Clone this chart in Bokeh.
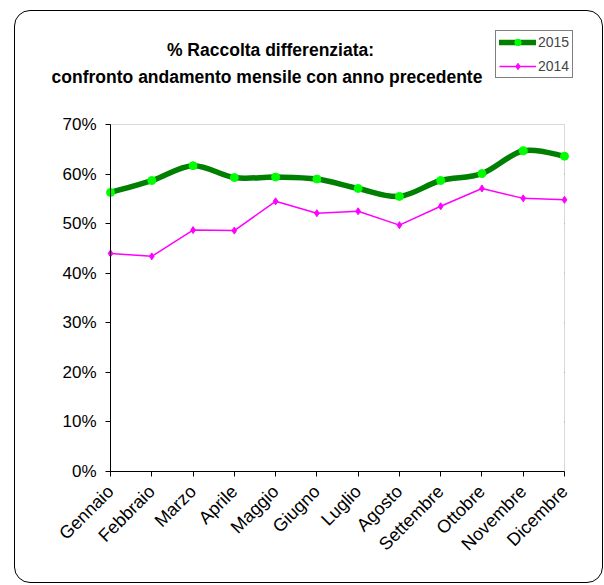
from bokeh.plotting import figure
from bokeh.models import (Range1d, FixedTicker, PrintfTickFormatter, Legend, LegendItem,
                          ColumnDataSource, Label, BoxAnnotation)
from bokeh.embed import file_html
from bokeh.resources import INLINE
import math

# ---- data ----
months = ["Gennaio", "Febbraio", "Marzo", "Aprile", "Maggio", "Giugno",
          "Luglio", "Agosto", "Settembre", "Ottobre", "Novembre", "Dicembre"]
v2015 = [56.3, 58.7, 61.7, 59.3, 59.4, 59.0, 57.1, 55.5, 58.7, 60.1, 64.7, 63.6]
v2014 = [44.0, 43.4, 48.7, 48.6, 54.5, 52.1, 52.5, 49.7, 53.5, 57.1, 55.1, 54.8]
y_ticks = [0, 10, 20, 30, 40, 50, 60, 70]
grid_vals = [10, 20, 30, 40, 50, 60]
title_lines = ["% Raccolta differenziata:",
               "confronto andamento mensile con anno precedente"]

xs = list(range(len(months)))

# smoothed (bezier) segments for 2015, control points derived from the data
def seg(i):
    n = len(xs)
    xm = xs[max(i - 1, 0)]; ym = v2015[max(i - 1, 0)]
    xp2 = xs[min(i + 2, n - 1)]; yp2 = v2015[min(i + 2, n - 1)]
    x0, y0, x1, y1 = xs[i], v2015[i], xs[i + 1], v2015[i + 1]
    return (x0, y0, x1, y1,
            x0 + (x1 - xm) / 6.0, y0 + (y1 - ym) / 6.0,
            x1 - (xp2 - x0) / 6.0, y1 - (yp2 - y0) / 6.0)

segs = [seg(i) for i in range(len(xs) - 1)]
bez = ColumnDataSource(dict(
    x0=[s[0] for s in segs], y0=[s[1] for s in segs],
    x1=[s[2] for s in segs], y1=[s[3] for s in segs],
    cx0=[s[4] for s in segs], cy0=[s[5] for s in segs],
    cx1=[s[6] for s in segs], cy1=[s[7] for s in segs]))

FONT = "Liberation Sans"

# layout: canvas 589x573; plot area 96px from left, 39 from right, 114 from top, 112 from bottom
W, H = 589, 573
L_PAD, R_PAD, T_PAD, B_PAD = 96, 39, 114, 112
x_lo, x_hi = 0, len(months) - 1
y_lo, y_hi = 0, 70
kx = (W - L_PAD - R_PAD) / (x_hi - x_lo)
ky = (H - T_PAD - B_PAD) / (y_hi - y_lo)

p = figure(width=W, height=H,
           x_range=Range1d(x_lo - L_PAD / kx, x_hi + R_PAD / kx),
           y_range=Range1d(y_lo - B_PAD / ky, y_hi + T_PAD / ky),
           output_backend="svg", toolbar_location=None, min_border=0)
p.margin = (10, 0, 0, 14)
p.styles = {"outline": "1px solid black", "outline-offset": "-1px", "border-radius": "16px"}
p.background_fill_color = None
p.border_fill_color = None
p.outline_line_color = None
p.title.visible = False
p.xgrid.visible = False
p.ygrid.visible = False

# plot area box and gridlines
p.add_layout(BoxAnnotation(left=x_lo, right=x_hi, bottom=y_lo, top=y_hi,
                           fill_color="white", fill_alpha=1,
                           line_color="#808080", line_width=1, level="underlay"))
p.segment(x0=[x_lo] * len(grid_vals), x1=[x_hi] * len(grid_vals), y0=grid_vals, y1=grid_vals,
          line_color="black", line_width=1, level="underlay")

# axes
p.xaxis.fixed_location = y_lo
p.xaxis.bounds = (x_lo, x_hi)
p.xaxis.ticker = FixedTicker(ticks=xs)
p.xaxis.major_label_overrides = {i: m for i, m in enumerate(months)}
p.xaxis.major_label_orientation = math.pi / 4
p.xaxis.major_label_text_font = FONT
p.xaxis.major_label_text_font_size = "18px"
p.xaxis.major_tick_out = 5
p.xaxis.major_tick_in = 0
p.xaxis.minor_tick_line_color = None
p.xaxis.major_label_standoff = 12

p.yaxis.fixed_location = x_lo
p.yaxis.bounds = (y_lo, y_hi)
p.yaxis.ticker = FixedTicker(ticks=y_ticks)
p.yaxis.formatter = PrintfTickFormatter(format="%d%%")
p.yaxis.major_label_text_font = FONT
p.yaxis.major_label_text_font_size = "17px"
p.yaxis.major_tick_out = 5
p.yaxis.major_tick_in = 0
p.yaxis.minor_tick_line_color = None
p.yaxis.major_label_standoff = 9

for ax in (p.xaxis, p.yaxis):
    ax.axis_line_color = "black"
    ax.major_tick_line_color = "black"
    ax.major_label_text_color = "black"

# series
r14_line = p.line(xs, v2014, line_color="#FF00FF", line_width=1.5)
r14_pts = p.scatter(xs, v2014, marker="diamond", size=7, fill_color="#FF00FF",
                    line_color="#FF00FF")
r15_line = p.bezier(x0="x0", y0="y0", x1="x1", y1="y1", cx0="cx0", cy0="cy0",
                    cx1="cx1", cy1="cy1", source=bez, line_color="#008000",
                    line_width=5.5, line_cap="round")
r15_pts = p.scatter(xs, v2015, marker="circle", size=8, fill_color="#00FF00",
                    line_color="#00FF00")

# title (two centred lines, left of the legend)
for txt, cx, by in [(title_lines[0], 270, 49.5), (title_lines[1], 266.5, 76.7)]:
    p.add_layout(Label(x=(cx - 14 - L_PAD) / kx, y=y_hi + (T_PAD - (by - 10)) / ky,
                       text=txt, text_align="center", text_baseline="alphabetic",
                       text_font=FONT, text_font_size="17.5px", text_font_style="bold",
                       text_color="black"))

legend = Legend(items=[LegendItem(label="2015", renderers=[r15_line, r15_pts]),
                       LegendItem(label="2014", renderers=[r14_line, r14_pts])],
                location=(495 - 14, H - (78 - 10)), orientation="vertical",
                label_text_font=FONT, label_text_font_size="14px",
                glyph_width=37, glyph_height=16, label_height=16, label_standoff=2,
                spacing=8, padding=3, margin=0,
                border_line_color="black", border_line_width=1,
                background_fill_color="white", background_fill_alpha=1)
p.add_layout(legend, "center")

open("out.html", "w").write(file_html(p, INLINE))
